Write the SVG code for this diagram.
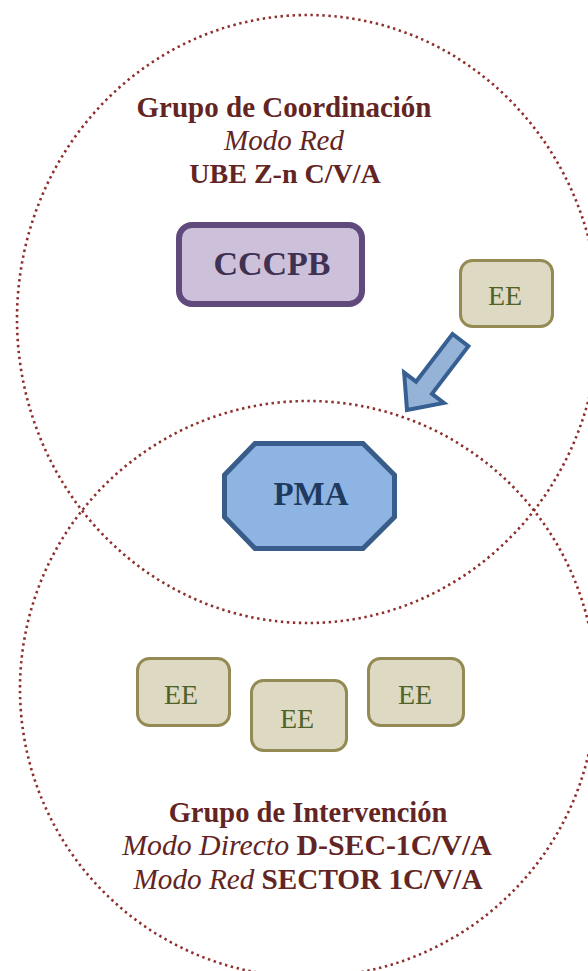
<svg xmlns="http://www.w3.org/2000/svg" width="588" height="971" viewBox="0 0 588 971">
<style>
.ring{fill:none;stroke:#8e2f2d;stroke-width:2.6;stroke-dasharray:2.4 3.6}
.lbl{font-family:"Liberation Serif","Times New Roman",serif;fill:#632523;font-size:28px;text-anchor:middle}
.b{font-weight:bold}
.i{font-style:italic;font-weight:normal}
.ee rect{fill:#ddd9c3;stroke:#948a54;stroke-width:3}
.ee text{font-family:"Liberation Serif","Times New Roman",serif;font-size:28px;fill:#4f6228;text-anchor:middle}
</style>
<rect width="588" height="971" fill="#ffffff"/>
<g id="groups">
<ellipse id="grupo-coordinacion" class="ring" cx="308" cy="319" rx="291" ry="304"/>
<circle id="grupo-intervencion" class="ring" cx="308" cy="689" r="288"/>
</g>
<g id="title-coord">
<text class="lbl b" x="284" y="117" style="font-size:29px">Grupo de Coordinación</text>
<text class="lbl i" x="284" y="150" style="font-size:29px">Modo Red</text>
<text class="lbl b" x="285" y="183">UBE Z-n C/V/A</text>
</g>
<g id="title-interv">
<text class="lbl b" x="308" y="822" style="font-size:28.5px">Grupo de Intervención</text>
<text class="lbl" x="307" y="855" style="font-size:29.8px"><tspan class="i">Modo Directo</tspan><tspan class="b"> D-SEC-1C/V/A</tspan></text>
<text class="lbl" x="308" y="889" style="font-size:29.2px"><tspan class="i">Modo Red</tspan><tspan class="b"> SECTOR 1C/V/A</tspan></text>
</g>
<g id="cccpb">
<rect x="179" y="225" width="183" height="79" rx="13" fill="#ccc0da" stroke="#604a7b" stroke-width="6"/>
<text x="272" y="275" font-family="Liberation Serif, Times New Roman, serif" font-size="34" font-weight="bold" fill="#3f3151" text-anchor="middle">CCCPB</text>
</g>
<g id="ee-top" class="ee">
<rect x="460.5" y="260.5" width="92" height="66" rx="12"/>
<text x="505" y="305">EE</text>
</g>
<g id="connectors">
<path d="M0,0 L-28,-25 L-28,-10 L-88,-10 L-88,10 L-28,10 L-28,25 Z" transform="translate(407,410) rotate(127.4)" fill="#95b3d7" stroke="#376092" stroke-width="4" stroke-linejoin="miter"/>
</g>
<g id="pma">
<polygon points="255,443.5 363,443.5 394.5,475 394.5,517 363,548.5 255,548.5 224.5,517 224.5,475" fill="#8eb4e3" stroke="#385d8a" stroke-width="5"/>
<text x="311" y="505" font-family="Liberation Serif, Times New Roman, serif" font-size="33" font-weight="bold" fill="#1f3a5f" text-anchor="middle">PMA</text>
</g>
<g id="ee-1" class="ee">
<rect x="137.5" y="658.5" width="92" height="67" rx="12"/>
<text x="181" y="704">EE</text>
</g>
<g id="ee-2" class="ee">
<rect x="251.5" y="680.5" width="95" height="70" rx="12"/>
<text x="297" y="728">EE</text>
</g>
<g id="ee-3" class="ee">
<rect x="368.5" y="658.5" width="95" height="67" rx="12"/>
<text x="415" y="704">EE</text>
</g>
</svg>
